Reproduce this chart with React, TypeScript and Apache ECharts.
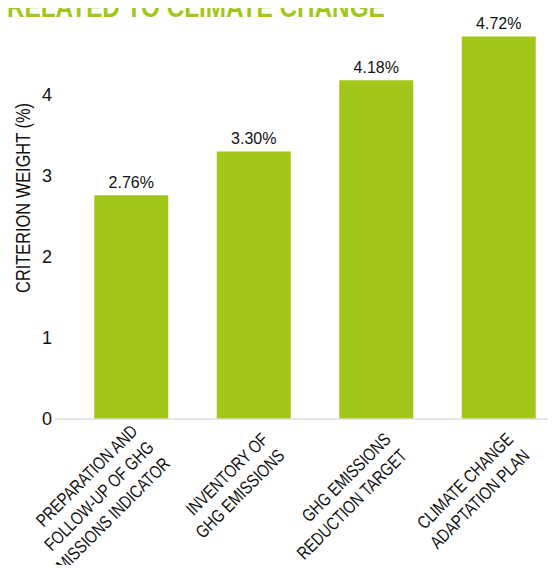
import React, { useEffect, useRef } from "react";
import * as echarts from "echarts";

const categories = [
  "PREPARATION AND\nFOLLOW-UP OF GHG\nEMISSIONS INDICATOR",
  "INVENTORY OF\nGHG EMISSIONS",
  "GHG EMISSIONS\nREDUCTION TARGET",
  "CLIMATE CHANGE\nADAPTATION PLAN",
];
const weights = [2.76, 3.3, 4.18, 4.72];
const yTicks = [0, 1, 2, 3, 4];
const titleText = "RELATED TO CLIMATE CHANGE";
const yAxisTitle = "CRITERION WEIGHT (%)";

const GREEN = "#a3c61a";
const REG = "'Liberation Sans', Arial, sans-serif";

export default function App() {
  const ref = useRef<HTMLDivElement>(null);
  useEffect(() => {
    if (!ref.current) return;
    const chart = echarts.init(ref.current, undefined, { renderer: "svg" });
    chart.setOption({
      animation: false,
      grid: { left: 70, width: 490, top: 30, bottom: 154, outerBoundsMode: "none", containLabel: false },
      xAxis: {
        type: "category",
        data: categories,
        axisLine: { show: false },
        axisTick: { show: false },
        axisLabel: { show: false },
      },
      yAxis: {
        type: "value",
        min: 0,
        max: 4.8,
        interval: 1,
        splitLine: { show: false },
        axisLine: { show: false },
        axisTick: { show: false },
        axisLabel: {
          margin: 18,
          fontFamily: REG,
          fontSize: 18,
          color: "#111",
          formatter: (v: number) => (yTicks.includes(v) ? String(v) : ""),
        },
      },
      series: [
        {
          type: "bar",
          data: weights,
          barWidth: 74,
          itemStyle: { color: GREEN },
          label: {
            show: true,
            position: "top",
            distance: 5,
            fontFamily: REG,
            fontSize: 16,
            color: "#111",
            formatter: (p: any) => p.value.toFixed(2) + "%",
          },
        },
      ],
    });
    const y0 = chart.convertToPixel({ yAxisIndex: 0 }, 0) as number;
    const catLabels = categories.map((c, i) => {
      const cx = chart.convertToPixel({ xAxisIndex: 0 }, i) as number;
      return {
        type: "text",
        x: cx + 19,
        y: y0 + 25,
        rotation: Math.PI / 4,
        scaleX: 0.8,
        style: {
          text: c,
          fill: "#111",
          font: `18px ${REG}`,
          lineHeight: 23,
          textAlign: "right",
          textVerticalAlign: "middle",
        },
      };
    });
    chart.setOption({
      graphic: [
        {
          type: "line",
          shape: { x1: 55, y1: y0, x2: 556, y2: y0 },
          style: { stroke: "#dcdcdc", lineWidth: 1.5 },
          z: 10,
        },
        {
          type: "text",
          x: 7,
          y: 22,
          scaleX: 0.81,
          style: {
            text: titleText,
            fill: GREEN,
            font: `bold 30px ${REG}`,
            textVerticalAlign: "bottom",
          },
        },
        {
          type: "text",
          x: 23,
          y: 198,
          rotation: Math.PI / 2,
          scaleX: 0.82,
          style: {
            text: yAxisTitle,
            fill: "#111",
            font: `20px ${REG}`,
            textAlign: "center",
            textVerticalAlign: "middle",
          },
        },
        ...catLabels,
      ],
    });
    return () => chart.dispose();
  }, []);
  return <div ref={ref} style={{ width: 556, height: 573, margin: -8 }} />;
}
